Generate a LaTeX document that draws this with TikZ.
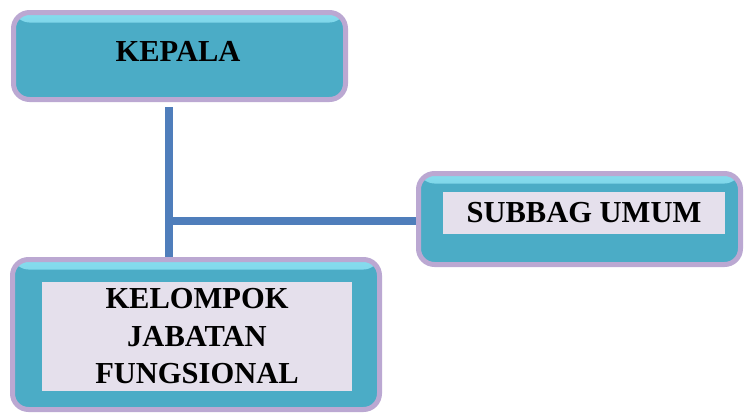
\documentclass[tikz,border=0pt]{standalone}
\usepackage{fontspec}
\setmainfont{Liberation Serif}
\usetikzlibrary{shadows}
\definecolor{boxteal}{HTML}{4BACC6}
\definecolor{boxhi}{HTML}{86DCEE}
\definecolor{boxrim}{HTML}{BBA8D2}
\definecolor{labfill}{HTML}{E5E0EC}
\definecolor{linkblue}{HTML}{4F7EBB}
\begin{document}
\begin{tikzpicture}[x=1pt,y=-1pt,
  unitbox/.style={draw=boxrim, line width=5pt, fill=boxteal, rounded corners=16pt,
    inner sep=0pt, drop shadow={shadow xshift=1pt, shadow yshift=-2pt, opacity=0.35},
    path picture={\shade[top color=boxhi, bottom color=boxteal]
      (path picture bounding box.north west) rectangle ([yshift=-10pt]path picture bounding box.north east);}},
  unitfont/.style={font=\bfseries\fontsize{30.5}{37.5}\selectfont},
  unitlabel/.style={unitfont, fill=labfill, inner sep=0pt, align=center},
  link/.style={draw=linkblue, line width=7.5pt}]
\useasboundingbox (0,0) rectangle (744,415);
\coordinate (jct) at (169,221);
\node[unitbox, minimum width=332pt, minimum height=87pt] (kepala) at (179.5,56){};
\node[unitbox, minimum width=322pt, minimum height=91pt] (subbag) at (579.5,219){};
\node[unitbox, minimum width=367pt, minimum height=150pt] (kelompok) at (196,334.5){};
\node[unitfont] (kepalatxt) at (178,51){KEPALA};
\node[unitlabel, minimum width=282pt, minimum height=42pt] (subbagtxt) at (584,213){SUBBAG UMUM};
\node[unitlabel, text width=310pt, minimum height=109pt] (kelompoktxt) at (197,336.5){KELOMPOK\\JABATAN\\FUNGSIONAL};
\draw[link] (kepala.south -| jct) ++(0,5) -- (kelompok.north -| jct);
\draw[link] (jct) -- (jct -| subbag.west);
\end{tikzpicture}
\end{document}
